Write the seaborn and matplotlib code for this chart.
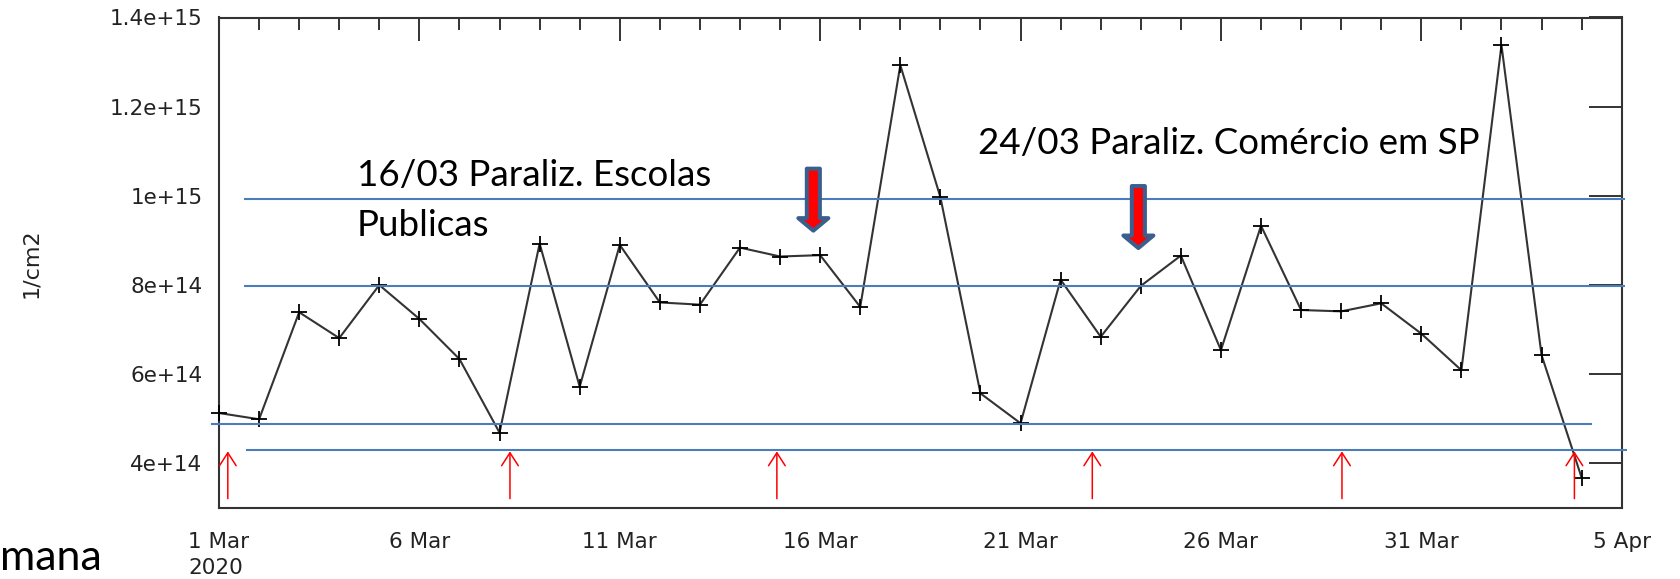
import matplotlib
matplotlib.use("Agg")
import matplotlib.pyplot as plt
import matplotlib.dates as mdates
import pandas as pd
import seaborn as sns

# Daily NO2 tropospheric column over Sao Paulo, March - April 2020
dates = pd.date_range("2020-03-01", "2020-04-04", freq="D")
no2_column = [5.13e14, 4.99e14, 7.39e14, 6.81e14, 8.00e14, 7.24e14, 6.34e14, 4.69e14,
              8.93e14, 5.72e14, 8.90e14, 7.61e14, 7.56e14, 8.84e14, 8.64e14, 8.67e14,
              7.51e14, 1.293e15, 9.97e14, 5.57e14, 4.90e14, 8.12e14, 6.84e14, 7.98e14,
              8.66e14, 6.54e14, 9.33e14, 7.44e14, 7.41e14, 7.59e14, 6.91e14, 6.09e14,
              1.338e15, 6.43e14, 3.68e14]

y_ticks = [4e14, 6e14, 8e14, 1e15, 1.2e15, 1.4e15]
y_tick_labels = ["4e+14", "6e+14", "8e+14", "1e+15", "1.2e+15", "1.4e+15"]
x_tick_dates = pd.to_datetime(["2020-03-01", "2020-03-06", "2020-03-11", "2020-03-16",
                               "2020-03-21", "2020-03-26", "2020-03-31", "2020-04-05"])
x_tick_labels = ["1 Mar\n2020", "6 Mar", "11 Mar", "16 Mar", "21 Mar", "26 Mar",
                 "31 Mar", "5 Apr"]

# Reference levels (horizontal guides); spans given in days after 1 Mar
guide_levels = [9.93e14, 7.97e14, 4.88e14, 4.29e14]
guide_start = [0.62, 0.62, -0.2, 0.67]
guide_end = [35.09, 35.09, 34.26, 35.13]

# Start of each week (days after 1 Mar)
week_marks = [0.22, 7.26, 13.92, 21.79, 28.02, 33.82]
week_arrow_base = 3.21e14
week_arrow_tip = 4.27e14

# Events: label lines, left edge (days after 1 Mar) and baselines
event_lines = ["16/03 Paraliz. Escolas", "Publicas", "24/03 Paraliz. Comércio em SP"]
event_text_x = [3.44, 3.44, 18.94]
event_text_y = [1.023e15, 9.11e14, 1.094e15]
event_arrow_x = [14.83, 22.94]
event_arrow_top = [1.061e15, 1.022e15]
event_arrow_tip = [9.22e14, 8.83e14]

sns.set_theme(style="white")
plt.rcParams["font.family"] = ["DejaVu Sans"]

W, H = 1681, 579
fig = plt.figure(figsize=(W / 100, H / 100), dpi=100)
ax = fig.add_axes([219 / W, (H - 508) / H, (1621.7 - 219) / W, (508 - 17.5) / H])

sns.lineplot(x=dates, y=no2_column, ax=ax, color="#333333", linewidth=1.5,
             marker="+", markersize=12, markeredgewidth=1.3,
             markeredgecolor="black", zorder=3, clip_on=False)

t0 = mdates.date2num(dates[0])

ax.set_xlim(x_tick_dates[0], x_tick_dates[-1])
ax.set_ylim(3e14, 1.4e15)

ax.set_yticks(y_ticks)
ax.set_yticklabels(y_tick_labels)
ax.set_xticks(x_tick_dates)
ax.set_xticklabels(x_tick_labels)
ax.xaxis.set_minor_locator(mdates.DayLocator())
first = ax.get_xticklabels()[0]
first.set_multialignment("left")
first.set_linespacing(1.4)

tick_color = "#333333"
ax.tick_params(axis="both", which="both", direction="in", top=True, right=True,
               color=tick_color, width=1.4, labelcolor="#222222", labelsize=15.5)
ax.tick_params(axis="x", which="major", length=16.5, pad=17)
ax.tick_params(axis="x", which="minor", length=8.5)
ax.tick_params(axis="y", which="major", length=24, pad=12)
ax.tick_params(axis="y", which="minor", length=0)
for side in ax.spines.values():
    side.set_color(tick_color)
    side.set_linewidth(1.5)

ax.set_xlabel("")
ax.set_ylabel("1/cm2", fontsize=16, color="#222222")
ax.yaxis.set_label_coords(-0.127, 0.5)

# Horizontal guide lines
guide_blue = "#4a7ebb"
for lvl, a, b in zip(guide_levels, guide_start, guide_end):
    ax.hlines(lvl, t0 + a, t0 + b, color=guide_blue, linewidth=1.5,
              clip_on=False, zorder=4)

# Weekly markers
for d in week_marks:
    ax.annotate("", xy=(t0 + d, week_arrow_tip), xytext=(t0 + d, week_arrow_base),
                annotation_clip=False,
                arrowprops=dict(arrowstyle="->,head_length=0.62,head_width=0.4",
                                mutation_scale=15, color="red", lw=1.1,
                                shrinkA=0, shrinkB=0), zorder=5)

# Event arrows
for d, top, tip in zip(event_arrow_x, event_arrow_top, event_arrow_tip):
    ax.annotate("", xy=(t0 + d, tip), xytext=(t0 + d, top), annotation_clip=False,
                arrowprops=dict(arrowstyle="simple,head_length=9,head_width=21.6,tail_width=9.4",
                                mutation_scale=1, fc="#ff0000", ec="#3a5f8e", lw=2.9,
                                shrinkA=0, shrinkB=0), zorder=6)

# Event labels
for line, d, y in zip(event_lines, event_text_x, event_text_y):
    ax.text(t0 + d, y, line, family="Lato", fontsize=26.5, color="black",
            ha="left", va="baseline", zorder=6)

fig.text(0, (H - 570) / H, "mana", family="Lato", fontsize=31, color="black",
         ha="left", va="baseline")

fig.savefig("out.png", dpi=100)
